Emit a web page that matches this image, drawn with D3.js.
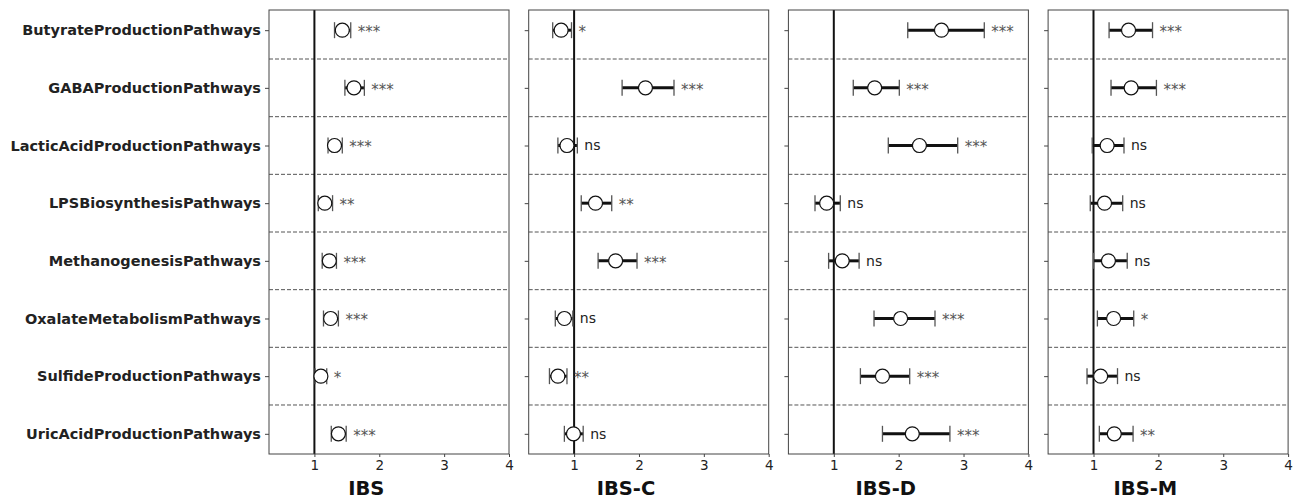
<!DOCTYPE html>
<html>
<head>
<meta charset="utf-8">
<script src="https://cdn.jsdelivr.net/npm/d3@7"></script>
<style>
  body { margin: 0; background: #fff; }
  svg, svg text { font-family: 'DejaVu Sans', sans-serif; }
  .axis path, .axis line { stroke: #444; }
  .axis text { fill: #222; }
</style>
</head>
<body>
<svg id="chart" width="1298" height="501"></svg>
<script>
// pathway categories (top to bottom)
var pathways = ['ButyrateProductionPathways', 'GABAProductionPathways', 'LacticAcidProductionPathways',
    'LPSBiosynthesisPathways', 'MethanogenesisPathways', 'OxalateMetabolismPathways',
    'SulfideProductionPathways', 'UricAcidProductionPathways'];
var groups = ['IBS', 'IBS-C', 'IBS-D', 'IBS-M'];
var xTicks = [1, 2, 3, 4];

// odds ratios per group (rows follow pathways)
var oddsRatios = [
    [1.43, 1.61, 1.31, 1.16, 1.23, 1.25, 1.10, 1.37],
    [0.80, 2.10, 0.89, 1.33, 1.64, 0.85, 0.75, 0.99],
    [2.66, 1.63, 2.32, 0.89, 1.13, 2.03, 1.75, 2.21],
    [1.54, 1.58, 1.21, 1.17, 1.23, 1.31, 1.11, 1.32]
];
var ciLower = [
    [1.31, 1.47, 1.21, 1.06, 1.12, 1.14, 1.01, 1.26],
    [0.67, 1.74, 0.75, 1.11, 1.37, 0.71, 0.62, 0.85],
    [2.14, 1.30, 1.84, 0.71, 0.92, 1.62, 1.41, 1.75],
    [1.24, 1.27, 0.98, 0.95, 1.00, 1.06, 0.90, 1.09]
];
var ciUpper = [
    [1.56, 1.77, 1.43, 1.28, 1.34, 1.37, 1.19, 1.49],
    [0.96, 2.54, 1.05, 1.58, 1.97, 0.98, 0.89, 1.14],
    [3.32, 2.01, 2.91, 1.10, 1.39, 2.56, 2.17, 2.79],
    [1.91, 1.97, 1.47, 1.45, 1.52, 1.62, 1.37, 1.61]
];
var significance = [
    ['***', '***', '***', '**', '***', '***', '*', '***'],
    ['*', '***', 'ns', '**', '***', 'ns', '**', 'ns'],
    ['***', '***', '***', 'ns', 'ns', '***', '***', '***'],
    ['***', '***', 'ns', 'ns', 'ns', '*', 'ns', '**']
];

var svg = d3.select('#chart');
var panelW = 240, panelStep = 259.7, firstLeft = 269;
var plotTop = 10, plotBottom = 454;

var xScale = d3.scaleLinear().domain([0.3, 4]).range([0, panelW]);
var yScale = d3.scaleLinear().domain([-0.35, pathways.length - 0.65]).range([plotTop, plotBottom]);

groups.forEach(function(g, gi) {
    var panel = svg.append('g')
        .attr('transform', 'translate(' + (firstLeft + gi * panelStep) + ',0)');

    // dashed separators between rows
    d3.range(pathways.length - 1).forEach(function(i) {
        panel.append('line')
            .attr('x1', 0).attr('x2', panelW)
            .attr('y1', yScale(i + 0.5)).attr('y2', yScale(i + 0.5))
            .attr('stroke', '#555').attr('stroke-width', 1)
            .attr('stroke-dasharray', '4,2');
    });

    // reference line at OR = 1
    panel.append('line')
        .attr('x1', xScale(1)).attr('x2', xScale(1))
        .attr('y1', plotTop).attr('y2', plotBottom)
        .attr('stroke', '#111').attr('stroke-width', 2);

    // y axis (labels only on the first panel)
    var yAxis = d3.axisLeft(yScale)
        .tickValues(d3.range(pathways.length))
        .tickSize(4)
        .tickFormat(function(i) { return gi === 0 ? pathways[i] : ''; });
    var yG = panel.append('g').attr('class', 'axis').call(yAxis)
        .attr('font-family', null);
    yG.select('.domain').remove();
    yG.selectAll('text')
        .style('font-size', '14.5px')
        .style('font-weight', 'bold')
        .attr('x', -8);

    // x axis
    var xAxis = d3.axisBottom(xScale).tickValues(xTicks).tickSize(3).tickPadding(3)
        .tickFormat(d3.format('d'));
    var xG = panel.append('g').attr('class', 'axis')
        .attr('transform', 'translate(0,' + plotBottom + ')').call(xAxis)
        .attr('font-family', null);
    xG.select('.domain').remove();
    xG.selectAll('text').style('font-size', '13.5px');

    // frame
    panel.append('rect')
        .attr('x', 0).attr('y', plotTop)
        .attr('width', panelW).attr('height', plotBottom - plotTop)
        .attr('fill', 'none').attr('stroke', '#444').attr('stroke-width', 1);

    // panel title
    panel.append('text')
        .attr('x', xScale(1.8)).attr('y', 495)
        .attr('text-anchor', 'middle')
        .style('font-size', '19.5px').style('font-weight', 'bold')
        .attr('fill', '#111')
        .text(g);

    var rows = pathways.map(function(p, i) {
        return { i: i, or: oddsRatios[gi][i], lo: ciLower[gi][i], hi: ciUpper[gi][i], sig: significance[gi][i] };
    });

    var rowG = panel.selectAll('g.row').data(rows).enter()
        .append('g').classed('row', true)
        .attr('transform', function(d) { return 'translate(0,' + yScale(d.i) + ')'; });

    // CI bar
    rowG.append('line')
        .attr('x1', function(d) { return xScale(d.lo); })
        .attr('x2', function(d) { return xScale(d.hi); })
        .attr('stroke', '#111').attr('stroke-width', 3);
    // caps
    rowG.append('line')
        .attr('x1', function(d) { return xScale(d.lo); })
        .attr('x2', function(d) { return xScale(d.lo); })
        .attr('y1', -8).attr('y2', 8)
        .attr('stroke', '#555').attr('stroke-width', 1.3);
    rowG.append('line')
        .attr('x1', function(d) { return xScale(d.hi); })
        .attr('x2', function(d) { return xScale(d.hi); })
        .attr('y1', -8).attr('y2', 8)
        .attr('stroke', '#555').attr('stroke-width', 1.3);
    // point
    rowG.append('circle')
        .attr('cx', function(d) { return xScale(d.or); })
        .attr('r', 7)
        .attr('fill', '#fff').attr('stroke', '#111').attr('stroke-width', 1.2);
    // significance label
    rowG.append('text')
        .attr('x', function(d) { return xScale(d.hi) + 7; })
        .attr('dy', function(d) { return d.sig === 'ns' ? '0.35em' : '0.45em'; })
        .style('font-size', function(d) { return d.sig === 'ns' ? '14px' : '15px'; })
        .attr('fill', function(d) { return d.sig === 'ns' ? '#222' : '#555'; })
        .text(function(d) { return d.sig; });
});
</script>
</body>
</html>
